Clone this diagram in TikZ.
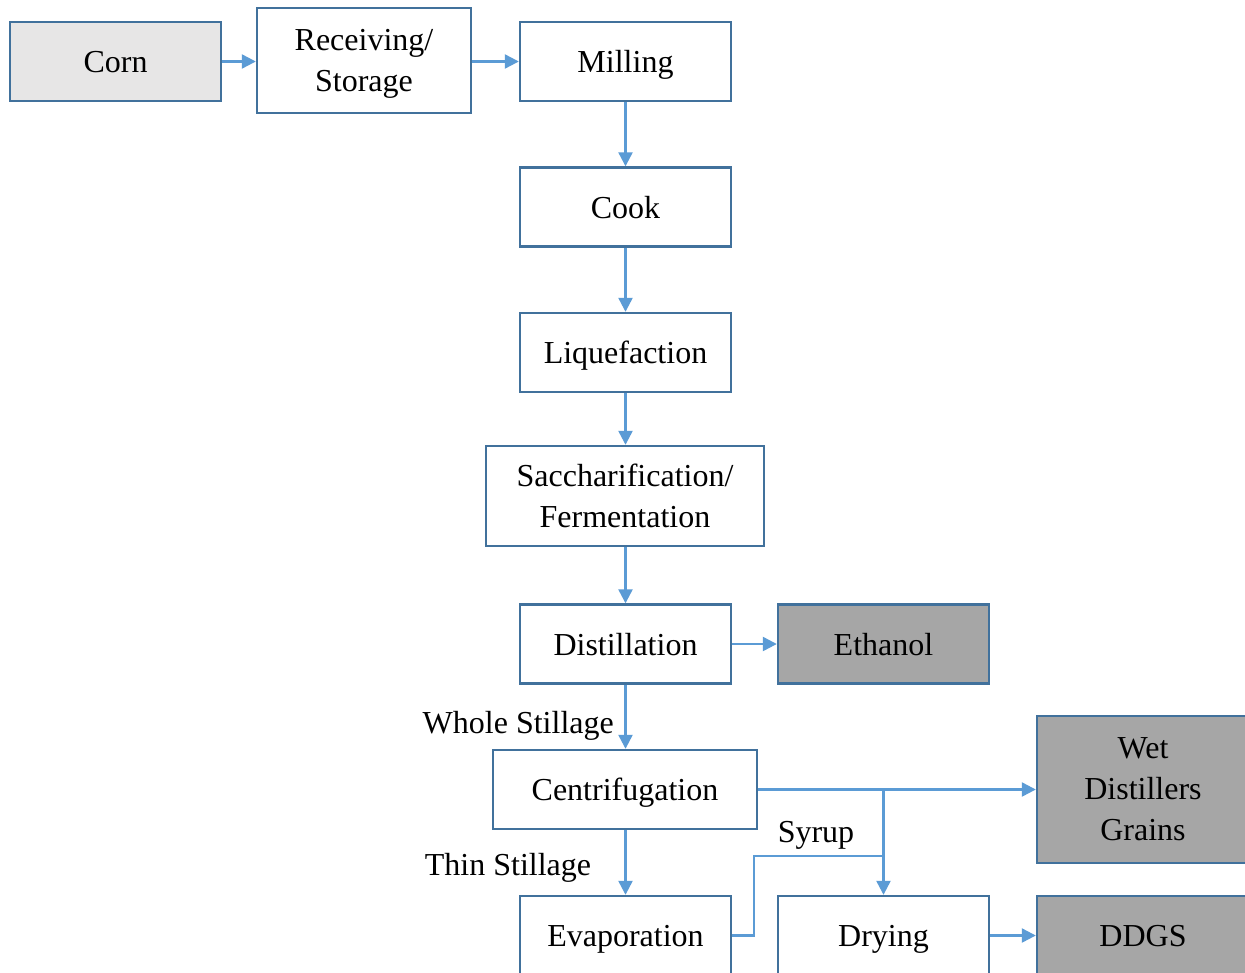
\documentclass[tikz,border=0pt]{standalone}
\usepackage{fontspec}
\setmainfont{Liberation Serif}
\usetikzlibrary{arrows.meta}
\definecolor{bordc}{HTML}{41719C}
\definecolor{arrc}{HTML}{5B9BD5}
\definecolor{lightg}{HTML}{E7E6E6}
\definecolor{darkg}{HTML}{A6A6A6}
\tikzset{
  proc/.style={draw=bordc, line width=2.4pt, fill=white, minimum width=211pt, minimum height=79pt,
    inner sep=0pt, align=center, font=\fontsize{32}{41}\selectfont, text depth=0pt},
  one/.style={text height=22pt},
  lbl/.style={inner sep=0pt, font=\fontsize{32}{41}\selectfont, text height=22pt, text depth=0pt},
  flow/.style={draw=arrc, line width=2.3pt, -{Triangle[length=14pt,width=14pt]}},
  plain/.style={draw=arrc, line width=2.3pt},
}
\begin{document}
\begin{tikzpicture}[x=1pt,y=-1pt]
\clip (0,0) rectangle (1245,972);
\fill[white] (0,0) rectangle (1245,972);
\node[proc, one, fill=lightg] (corn) at (115.5,61.5) {Corn};
\node[proc, minimum width=214pt, minimum height=105pt] (recv) at (364,60.5) {Receiving/\\Storage};
\node[proc, one] (mill) at (625.5,61.5) {Milling};
\node[proc, one] (cook) at (625.5,207) {Cook};
\node[proc, one] (liq) at (625.5,352.5) {Liquefaction};
\node[proc, minimum width=278pt, minimum height=100pt] (sacc) at (625,496) {Saccharification/\\Fermentation};
\node[proc, one] (dist) at (625.5,644) {Distillation};
\node[proc, one, fill=darkg] (eth) at (883.5,644) {Ethanol};
\node[proc, one, minimum width=264pt] (cent) at (625,789.5) {Centrifugation};
\node[proc, fill=darkg, minimum width=212pt, minimum height=147pt] (wdg) at (1143,789.5) {Wet\\Distillers\\Grains};
\node[proc, one] (evap) at (625.5,935.5) {Evaporation};
\node[proc, one] (dry) at (883.5,935.5) {Drying};
\node[proc, one, fill=darkg, minimum width=212pt] (ddgs) at (1143,935.5) {DDGS};

\coordinate (j) at (dry.north |- cent.east);
\coordinate (s) at ([yshift=-66.5pt]j);
\coordinate (e1) at (754,935.5);
\coordinate (e2) at (e1 |- s);

\draw[flow] (corn.east) -- (recv.west |- corn.east);
\draw[flow] (recv.east |- mill.west) -- (mill.west);
\draw[flow] (mill.south) -- (cook.north);
\draw[flow] (cook.south) -- (liq.north);
\draw[flow] (liq.south) -- (sacc.north -| liq.south);
\draw[flow] (sacc.south -| dist.north) -- (dist.north);
\draw[flow] (dist.east) -- (eth.west);
\draw[flow] (dist.south) -- (cent.north -| dist.south);
\draw[flow] (cent.east) -- (wdg.west);
\draw[flow] (j) -- (dry.north);
\draw[flow] (cent.south -| dist.south) -- (evap.north);
\draw[plain] (evap.east) -- (e1) -- (e2) -- (s);
\draw[flow] (dry.east) -- (ddgs.west);

\node[lbl, anchor=east] (ws) at (614,722) {Whole Stillage};
\node[lbl] (ts) at (508,864) {Thin Stillage};
\node[lbl] (sy) at (816,831) {Syrup};
\end{tikzpicture}
\end{document}
